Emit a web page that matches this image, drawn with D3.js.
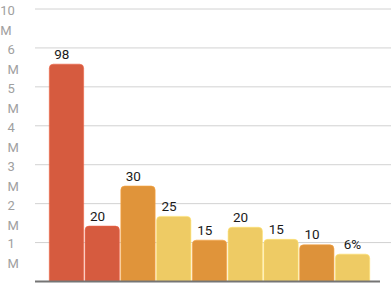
<!DOCTYPE html>
<html>
<head>
<meta charset="utf-8">
<script src="https://cdn.jsdelivr.net/npm/d3@7"></script>
<style>
  body { margin: 0; background: #fff; }
  text { font-family: Roboto, "Noto Sans", sans-serif; }
</style>
</head>
<body>
<div class="chart"></div>
<script>
var svgWidth = 391;
var svgHeight = 283;

// data
var categories = ["a", "b", "c", "d", "e", "f", "g", "h", "i"];
var barValues = [5.57, 1.41, 2.44, 1.66, 1.05, 1.38, 1.07, 0.93, 0.69]; // in M
var barLabels = ["98", "20", "30", "25", "15", "20", "15", "10", "6%"];
var barColors = ["#d65b3f", "#d65b3f", "#e0943a", "#eecb64", "#e0943a",
                 "#eecb64", "#eecb64", "#dd923a", "#eecb64"];
var tickValues = [1, 2, 3, 4, 5, 6, 10];
var tickLabels = ["1 M", "2 M", "3 M", "4 M", "5 M", "6 M", "10 M"];

var margin = { top: 8.5, right: 0, bottom: 2, left: 35 };
var baseY = svgHeight - margin.bottom;

var svg = d3.select(".chart")
  .append("svg")
  .attr("width", svgWidth)
  .attr("height", svgHeight);

// axis labels are evenly spaced, so map each tick to an even step
var domainVals = [0].concat(tickValues);
var stepScale = d3.scaleLinear()
  .domain([0, domainVals.length - 1])
  .range([baseY, margin.top]);
var yScale = d3.scaleLinear()
  .domain(domainVals)
  .range(domainVals.map((d, i) => stepScale(i)));

var xScale = d3.scaleBand()
  .domain(categories)
  .range([49.3, 369.7])
  .paddingInner(0.04);

// gridlines
var grid = svg.append("g")
  .attr("transform", `translate(${margin.left},0)`)
  .call(d3.axisLeft(yScale)
    .tickValues(tickValues)
    .tickSize(-(svgWidth - margin.left))
    .tickFormat(""));
grid.select(".domain").remove();
grid.selectAll("line").attr("stroke", "#d2d2d2").attr("stroke-width", 1);

// y labels, wrapped onto two lines
var labelRight = 29.5;
tickValues.forEach(function(v, i) {
  var t = svg.append("text")
    .attr("font-size", "13px")
    .attr("fill", "#a0a0a0")
    .text(tickLabels[i]);
  var w = t.node().getComputedTextLength();
  var x0 = labelRight - w;
  var gy = yScale(v);
  t.text(null);
  var parts = tickLabels[i].split(" ");
  parts.forEach(function(p, j) {
    t.append("tspan")
      .attr("x", x0)
      .attr("y", gy + 6.4 + j * 20)
      .text(p);
  });
});

// bars with rounded tops
function barPath(x, y, w, h, r) {
  r = Math.min(r, h, w / 2);
  return `M${x},${y + h}V${y + r}Q${x},${y} ${x + r},${y}H${x + w - r}Q${x + w},${y} ${x + w},${y + r}V${y + h}Z`;
}

var bars = svg.append("g");
bars.selectAll("path")
  .data(barValues)
  .enter()
  .append("path")
  .attr("d", (d, i) => barPath(xScale(categories[i]), yScale(d),
    xScale.bandwidth(), baseY - yScale(d), 4))
  .attr("fill", (d, i) => barColors[i])
  .attr("stroke", (d, i) => d3.color(barColors[i]).brighter(0.3))
  .attr("stroke-width", 0.6);

// value labels
svg.append("g").selectAll("text")
  .data(barValues)
  .enter()
  .append("text")
  .attr("x", (d, i) => xScale(categories[i]) + xScale.bandwidth() / 2)
  .attr("dx", (d, i) => barLabels[i].indexOf("%") >= 0 ? 0 : -4.7)
  .attr("y", d => yScale(d) - 5.5)
  .attr("text-anchor", "middle")
  .attr("font-size", "13.5px")
  .attr("fill", "#1a1a1a")
  .text((d, i) => barLabels[i]);

// baseline
svg.append("line")
  .attr("x1", margin.left)
  .attr("x2", 380)
  .attr("y1", baseY + 0.5)
  .attr("y2", baseY + 0.5)
  .attr("stroke", "#757575")
  .attr("stroke-width", 2);
</script>
</body>
</html>
